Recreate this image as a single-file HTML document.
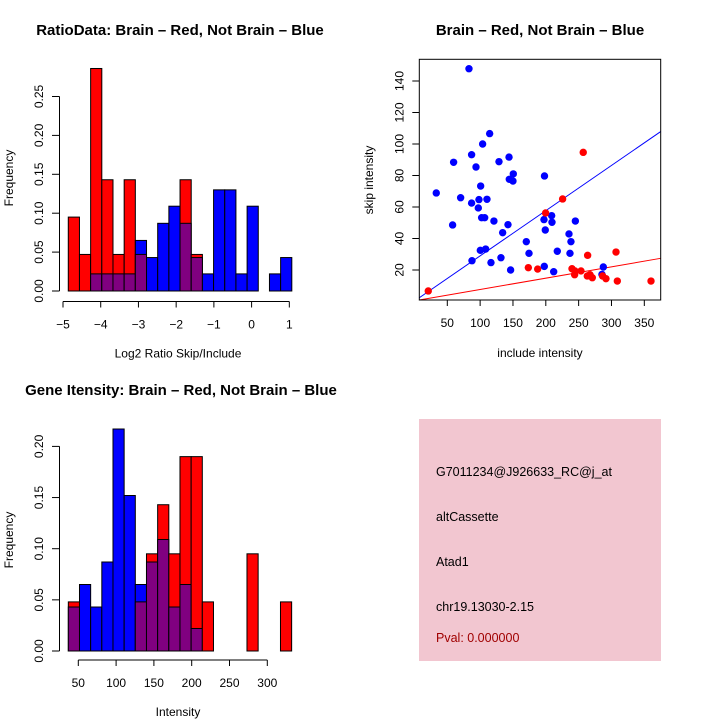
<!DOCTYPE html>
<html><head><meta charset="utf-8"><style>
html,body{margin:0;padding:0;background:#fff;}
svg{display:block;font-family:"Liberation Sans",sans-serif;}
</style></head><body>
<svg id="c" width="720" height="720" viewBox="0 0 720 720" xmlns="http://www.w3.org/2000/svg">
<rect width="720" height="720" fill="#fff"/>
<g id="p1"></g>
<g id="p2"></g>
<g id="p3"></g>
<g>
  <rect x="419" y="419" width="242" height="242" fill="#f2c6d0"/>
  <text x="436" y="476" font-size="12.5">G7011234@J926633_RC@j_at</text>
  <text x="436" y="521" font-size="12.5">altCassette</text>
  <text x="436" y="566" font-size="12.5">Atad1</text>
  <text x="436" y="611" font-size="12.5">chr19.13030-2.15</text>
  <text x="436" y="642" font-size="12.5" fill="#a00000">Pval: 0.000000</text>
</g>
</svg>
<script>
// Ratio histogram data
const ratioBinStart = -4.86;
const ratioBinWidth = 0.2963;
const ratioRed  = [0.095,0.047,0.286,0.143,0.047,0.143,0.047,0,0,0,0.143,0.047,0,0,0,0,0,0,0,0];
const ratioBlue = [0,0,0.022,0.022,0.022,0.022,0.065,0.043,0.087,0.109,0.087,0.043,0.022,0.130,0.130,0.022,0.109,0,0.022,0.043];
const ratioXTicks = [-5,-4,-3,-2,-1,0,1];
const ratioYTicks = [0,0.05,0.10,0.15,0.20,0.25];
const ratioYLabels = ["0.00","0.05","0.10","0.15","0.20","0.25"];

// Intensity histogram data
const intBinStart = 36.8;
const intBinWidth = 14.77;
const intRed  = [0.048,0,0,0,0,0,0.048,0.095,0.143,0.095,0.190,0.190,0.048,0,0,0,0.095,0,0,0.048];
const intBlue = [0.043,0.065,0.043,0.087,0.217,0.152,0.065,0.087,0.109,0.043,0.065,0.022,0,0,0,0,0,0,0,0];
const intXTicks = [50,100,150,200,250,300];
const intYTicks = [0,0.05,0.10,0.15,0.20];
const intYLabels = ["0.00","0.05","0.10","0.15","0.20"];

// Scatter data
const blueX = [83,114.5,103.8,87,144,59.6,128.7,93.7,150.5,198,144.4,150,100.8,33.2,70.3,98.2,110.4,87,97.2,208.9,102.3,106.9,197.2,58.1,121,142.4,209.4,245,199.2,134.3,235.3,170.3,238.3,100.3,108.4,174.4,217.5,236.8,131.7,87.6,116.5,146.4,197.7,212,287.6,285.5];
const blueY = [147.8,106.6,100,93.2,91.7,88.4,88.8,85.4,81,79.7,77.6,76.5,73.3,68.9,65.9,64.7,64.9,62.5,59.4,54.5,53.2,53.2,52,48.6,51.1,48.8,50.3,51.1,45.4,43.7,42.9,38,38,32.5,33.3,30.6,31.9,30.6,27.8,25.9,24.7,20,22.3,18.9,21.9,17.2];
const redX = [21,257,225.6,199.7,263.7,306.9,173.4,187.6,239.9,244.4,253.6,243.9,263.2,267.3,270.8,286.5,291.6,308.9,360.2];
const redY = [6.7,94.7,65.1,56.2,29.3,31.4,21.5,20.6,20.8,19.4,19.4,17,16.2,17,15.1,16.2,14.5,13,13];
const blueFit = [0.28,0.287];
const redFit = [0.42,0.072];
const scXTicks = [50,100,150,200,250,300,350];
const scYTicks = [20,40,60,80,100,120,140];

const NS="http://www.w3.org/2000/svg";
function mk(parent,tag,attrs,text){const e=document.createElementNS(NS,tag);for(const k in attrs)e.setAttribute(k,attrs[k]);if(text!==undefined)e.textContent=text;parent.appendChild(e);return e;}

function hist(g, o){
  const sx=v=>o.x0+(v-o.d0)*o.kx, sy=v=>o.y0-v*o.ky;
  for(let i=0;i<o.red.length;i++){
    const a=o.start+i*o.width, b=a+o.width, r=o.red[i], bl=o.blue[i];
    const xa=sx(a), xb=sx(b), hi=Math.max(r,bl), lo=Math.min(r,bl);
    if(hi>0){
      const el=mk(g,'rect',{x:xa,y:sy(hi),width:xb-xa,height:sy(0)-sy(hi),fill:r>=bl?'#ff0000':'#0000ff',stroke:'#000','stroke-width':1});
      
      
    }
    if(lo>0){
      const el=mk(g,'rect',{x:xa,y:sy(lo),width:xb-xa,height:sy(0)-sy(lo),fill:'#800080',stroke:'#000','stroke-width':1});
      
      
    }
  }
  const ya=mk(g,'g',{});
  
  
  const yt=o.yTicks;
  mk(ya,'line',{x1:59.5,x2:59.5,y1:sy(yt[0]),y2:sy(yt[yt.length-1]),stroke:'#000'});
  yt.forEach((t,i)=>{const y=sy(t);mk(ya,'line',{x1:52,x2:59.5,y1:y,y2:y,stroke:'#000'});
    mk(ya,'text',{x:0,y:0,'font-size':12,'text-anchor':'middle',transform:`translate(43,${y}) rotate(-90)`},o.yLabels[i]);});
  const xa=mk(g,'g',{});
  
  
  const xt=o.xTicks;
  mk(xa,'line',{x1:sx(xt[0]),x2:sx(xt[xt.length-1]),y1:o.axY,y2:o.axY,stroke:'#000'});
  xt.forEach(t=>{const x=sx(t);mk(xa,'line',{x1:x,x2:x,y1:o.axY,y2:o.axY+6,stroke:'#000'});
    mk(xa,'text',{x:x,y:o.axY+27,'font-size':12,'text-anchor':'middle'},t<0?'\u2212'+(-t):String(t));});
  const xl=mk(g,'text',{x:178,y:o.axY+56,'font-size':12,'text-anchor':'middle'},o.xlab);
  
  
  const yl=mk(g,'text',{x:0,y:0,'font-size':12,'text-anchor':'middle',transform:`translate(13,${o.ylabY}) rotate(-90)`},'Frequency');
  
  
  const tt=mk(g,'text',{x:o.titleX,y:o.titleY,'font-size':15,'font-weight':'bold','text-anchor':'middle'},o.title);
  
  
}

hist(document.getElementById('p1'),{name:'ratio',red:ratioRed,blue:ratioBlue,start:ratioBinStart,width:ratioBinWidth,
  d0:-5,x0:63,kx:37.72,y0:291,ky:778,axY:301.5,xTicks:ratioXTicks,yTicks:ratioYTicks,yLabels:ratioYLabels,
  xlab:'Log2 Ratio Skip/Include',ylabY:178,title:'RatioData: Brain \u2013 Red, Not Brain \u2013 Blue',titleX:180,titleY:35});
hist(document.getElementById('p3'),{name:'intensity',red:intRed,blue:intBlue,start:intBinStart,width:intBinWidth,
  d0:50,x0:78.3,kx:0.756,y0:651,ky:1023,axY:660,xTicks:intXTicks,yTicks:intYTicks,yLabels:intYLabels,
  xlab:'Intensity',ylabY:540,title:'Gene Itensity: Brain \u2013 Red, Not Brain \u2013 Blue',titleX:181,titleY:395});

(function(){
  const g=document.getElementById('p2');
  const L=419.3,R=660.7,T=59.3,B=300;
  const sx=v=>447.3+(v-50)*0.6567, sy=v=>270-(v-20)*1.575;
  const dx0=(L-447.3)/0.6567+50, dx1=(R-447.3)/0.6567+50;
  const cp=mk(g,'clipPath',{id:'scclip'});mk(cp,'rect',{x:L,y:T,width:R-L,height:B-T});
  const lines=mk(g,'g',{'clip-path':'url(#scclip)'});
  const bl=mk(lines,'line',{x1:sx(dx0),y1:sy(blueFit[0]+blueFit[1]*dx0),x2:sx(dx1),y2:sy(blueFit[0]+blueFit[1]*dx1),stroke:'#0000ff'});
  
  
  const rl=mk(lines,'line',{x1:sx(dx0),y1:sy(redFit[0]+redFit[1]*dx0),x2:sx(dx1),y2:sy(redFit[0]+redFit[1]*dx1),stroke:'#ff0000'});
  
  
  blueX.forEach((x,i)=>{const c=mk(g,'circle',{cx:sx(x),cy:sy(blueY[i]),r:3.7,fill:'#0000ff'});
    
    });
  redX.forEach((x,i)=>{const c=mk(g,'circle',{cx:sx(x),cy:sy(redY[i]),r:3.7,fill:'#ff0000'});
    
    });
  const box=mk(g,'rect',{x:L,y:T,width:R-L,height:B-T,fill:'none',stroke:'#000'});
  
  
  const xa=mk(g,'g',{});
  
  
  scXTicks.forEach(t=>{const x=sx(t);mk(xa,'line',{x1:x,x2:x,y1:B,y2:B+6,stroke:'#000'});
    mk(xa,'text',{x:x,y:B+27,'font-size':12,'text-anchor':'middle'},String(t));});
  const ya=mk(g,'g',{});
  
  
  scYTicks.forEach(t=>{const y=sy(t);mk(ya,'line',{x1:L-7,x2:L,y1:y,y2:y,stroke:'#000'});
    mk(ya,'text',{x:0,y:0,'font-size':12,'text-anchor':'middle',transform:`translate(${L-16},${y}) rotate(-90)`},String(t));});
  const xl=mk(g,'text',{x:540,y:357,'font-size':12,'text-anchor':'middle'},'include intensity');
  
  
  const yl=mk(g,'text',{x:0,y:0,'font-size':12,'text-anchor':'middle',transform:'translate(373,180) rotate(-90)'},'skip intensity');
  
  
  const tt=mk(g,'text',{x:540,y:35,'font-size':15,'font-weight':'bold','text-anchor':'middle'},'Brain \u2013 Red, Not Brain \u2013 Blue');
  
  
})();
</script>
</body></html>
